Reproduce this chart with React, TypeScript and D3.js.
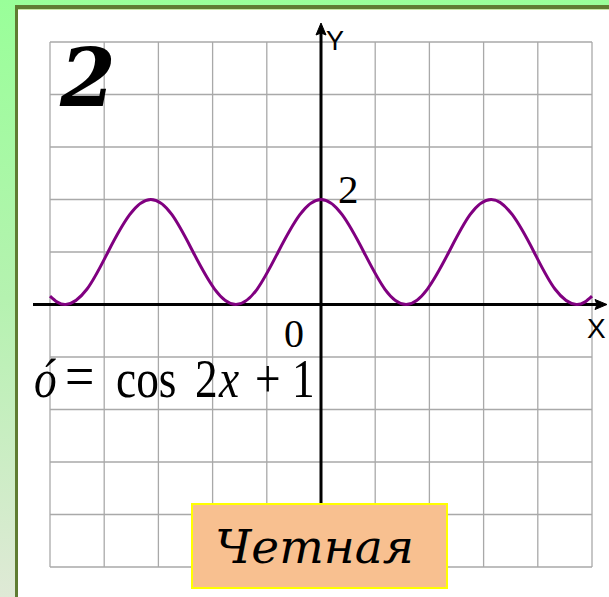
import React from "react";
import * as d3 from "d3";

const W = 609;
const H = 597;

// grid ticks (units)
const gridTicks = [-5, -4, -3, -2, -1, 0, 1, 2, 3, 4, 5];

// curve y = cos 2x + 1
const curveX = [-5, -4.71, -4.32, -3.93, -3.53, -3.14, -2.75, -2.36, -1.96, -1.57, -1.18, -0.79, -0.39, 0, 0.39, 0.79, 1.18, 1.57, 1.96, 2.36, 2.75, 3.14, 3.53, 3.93, 4.32, 4.71, 5];
const curveY = [0.16, 0, 0.29, 1, 1.71, 2, 1.71, 1, 0.29, 0, 0.29, 1, 1.71, 2, 1.71, 1, 0.29, 0, 0.29, 1, 1.71, 2, 1.71, 1, 0.29, 0, 0.16];

const yTickLabel = "2";
const originLabel = "0";
const titleNumber = "2";
const answerLabel = "Четная";

export default function App() {
  const x = d3.scaleLinear().domain([-5, 5]).range([50, 592]);
  const y = d3.scaleLinear().domain([-5, 5]).range([567, 42]);
  const pts: [number, number][] = curveX.map((v, i) => [v, curveY[i]]);
  const line = d3
    .line<[number, number]>()
    .x((d) => x(d[0]))
    .y((d) => y(d[1]))
    .curve(d3.curveNatural);

  const x0 = x(0);
  const y0 = y(0);
  const sx = 0.84;
  const fx = (t: number) => 33 + (t - 33) / sx;

  return (
    <svg
      width={W}
      height={H}
      style={{ position: "absolute", left: 0, top: 0 }}
      xmlns="http://www.w3.org/2000/svg"
    >
      <defs>
        <linearGradient id="bg" x1="0" y1="0" x2="0" y2="1">
          <stop offset="0" stopColor="#99ff99" />
          <stop offset="0.5" stopColor="#b5f2b0" />
          <stop offset="1" stopColor="#dfe9d6" />
        </linearGradient>
      </defs>
      <rect x={0} y={0} width={W} height={H} fill="url(#bg)" />
      <rect x={15} y={5} width={W - 15} height={H - 5} fill="#5f7c32" />
      <rect x={18} y={9} width={W - 18} height={1} fill="#c9e6a8" />
      <rect x={18} y={10} width={W - 18} height={H - 10} fill="#ffffff" />

      {/* grid */}
      <g stroke="#a9a9a9" strokeWidth={1.3}>
        {gridTicks.map((t) => (
          <line key={"v" + t} x1={x(t)} x2={x(t)} y1={y(5)} y2={y(-5)} />
        ))}
        {gridTicks.map((t) => (
          <line key={"h" + t} x1={x(-5)} x2={x(5)} y1={y(t)} y2={y(t)} />
        ))}
      </g>

      {/* big number */}
      <text
        x={60}
        y={106}
        fontFamily="'DejaVu Serif', serif"
        fontWeight="bold"
        fontStyle="italic"
        fontSize={80}
        fill="#000"
      >
        {titleNumber}
      </text>

      {/* axes */}
      <line x1={33} x2={598} y1={y0} y2={y0} stroke="#000" strokeWidth={3} />
      <path d={`M607,${y0} L595,${y0 - 5} L597,${y0} L595,${y0 + 5} Z`} fill="#000" stroke="#000" strokeWidth={1} />
      <line x1={x0} x2={x0} y1={504} y2={32} stroke="#000" strokeWidth={3} />
      <path d={`M${x0},23 L${x0 - 5},35 L${x0},33 L${x0 + 5},35 Z`} fill="#000" stroke="#000" strokeWidth={1} />

      <text x={326} y={50} fontFamily="'Liberation Sans', sans-serif" fontSize={27} fill="#000">Y</text>
      <text x={587} y={338} fontFamily="'Liberation Sans', sans-serif" fontSize={28} fill="#000">X</text>

      {/* curve */}
      <path d={line(pts) || ""} fill="none" stroke="#800080" strokeWidth={3} />

      {/* labels */}
      <text x={338} y={203} fontFamily="'Liberation Serif', serif" fontSize={41} fill="#000">{yTickLabel}</text>
      <text x={284} y={347} fontFamily="'Liberation Serif', serif" fontSize={40} fill="#000">{originLabel}</text>

      {/* formula */}
      <text
        y={397}
        transform={`translate(33,0) scale(${sx},1) translate(-33,0)`}
        fontFamily="'Liberation Serif', serif"
        fontSize={54}
        fill="#000"
      >
        <tspan x={fx(34)} fontStyle="italic">ó</tspan>
        <tspan x={fx(65)} fontSize={62}>=</tspan>
        <tspan x={fx(116)}>cos</tspan>
        <tspan x={fx(195)}>2</tspan>
        <tspan x={fx(219)} fontStyle="italic">x</tspan>
        <tspan x={fx(255)}>+</tspan>
        <tspan x={fx(292)}>1</tspan>
      </text>

      {/* answer box */}
      <rect x={192} y={504} width={255} height={84} fill="#f8c090" stroke="#ffff00" strokeWidth={2} />
      <text
        x={215}
        y={563}
        fontFamily="'DejaVu Serif', serif"
        fontStyle="italic"
        fontSize={47}
        fill="#000"
      >
        {answerLabel}
      </text>
    </svg>
  );
}
